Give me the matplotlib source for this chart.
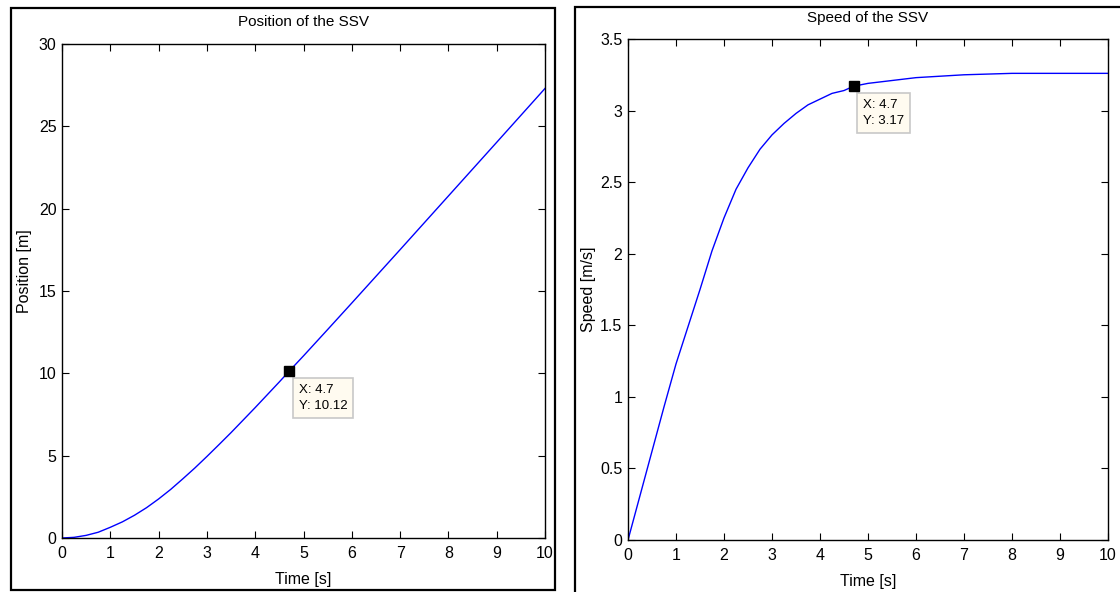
import matplotlib.pyplot as plt
from matplotlib.patches import Rectangle

# values
t = [0, 0.25, 0.5, 0.75, 1.0, 1.25, 1.5, 1.75, 2.0, 2.25, 2.5, 2.75, 3.0, 3.25, 3.5,
     3.75, 4.0, 4.25, 4.5, 4.7, 5.0, 5.5, 6.0, 6.5, 7.0, 8.0, 9.0, 10.0]
speed = [0, 0.31, 0.62, 0.93, 1.23, 1.49, 1.75, 2.02, 2.25, 2.45, 2.60, 2.73, 2.83, 2.91, 2.98,
         3.04, 3.08, 3.12, 3.14, 3.17, 3.19, 3.21, 3.23, 3.24, 3.25, 3.26, 3.26, 3.26]
position = [0, 0.04, 0.16, 0.35, 0.65, 0.98, 1.38, 1.84, 2.37, 2.95, 3.59, 4.25, 4.95, 5.67, 6.40,
            7.16, 7.92, 8.70, 9.48, 10.12, 11.06, 12.66, 14.27, 15.89, 17.51, 20.77, 24.03, 27.3]

tip_x = 4.7
tip_pos = 10.12
tip_speed = 3.17

FONT = ['Liberation Sans', 'DejaVu Sans']

fig = plt.figure(figsize=(11.2, 5.92), dpi=100)
fig.patch.set_facecolor('white')

# panel frames (two separate figure windows in the screenshot)
fig.add_artist(Rectangle((11 / 1120, 2 / 592), 544 / 1120, 582 / 592, transform=fig.transFigure,
                         fill=False, edgecolor='black', lw=1.6))
fig.add_artist(Rectangle((575 / 1120, -0.01), 0.6, 1 - 7 / 592 + 0.01, transform=fig.transFigure,
                         fill=False, edgecolor='black', lw=1.6))


def style(ax, title, ylabel, ylim, yticks, yfmt, tpad, ypad):
    ax.set_xlim(0, 10)
    ax.set_ylim(*ylim)
    ax.set_xticks(range(11))
    ax.set_yticks(yticks)
    ax.set_yticklabels([yfmt(v) for v in yticks])
    ax.tick_params(direction='in', length=5, width=0.8, top=True, right=True,
                   labelsize=11.5)
    ax.tick_params(axis='x', pad=6)
    ax.tick_params(axis='y', pad=4)
    for lab in ax.get_xticklabels() + ax.get_yticklabels():
        lab.set_family(FONT)
    for s in ax.spines.values():
        s.set_linewidth(1.0)
    ax.set_title(title, family=FONT, fontsize=11, pad=tpad)
    ax.set_xlabel('Time [s]', family=FONT, fontsize=11.5, labelpad=8)
    ax.set_ylabel(ylabel, family=FONT, fontsize=11.5, labelpad=ypad)


def datatip(ax, x, y, ytxt, dx, dy):
    ax.plot([x], [y], 's', color='black', markersize=7, zorder=5, clip_on=False)
    ax.annotate('X: %g\nY: %s' % (x, ytxt), xy=(x, y), xytext=(dx, dy),
                textcoords='offset points', ha='left', va='top',
                family=FONT, fontsize=9.5, linespacing=1.5,
                bbox=dict(boxstyle='square,pad=0.45', fc='#FFFBF0', ec='#C8C8C8', lw=1.2))


ax1 = fig.add_axes([62 / 1120, 1 - 538 / 592, 483 / 1120, 494 / 592])
ax1.plot(t, position, color='#0000FF', lw=1)
style(ax1, 'Position of the SSV', 'Position [m]', (0, 30), list(range(0, 31, 5)),
      lambda v: '%d' % v, 13, 5)
ax1.yaxis.label.set_y(0.54)
datatip(ax1, tip_x, tip_pos, '10.12', 7, -9)

ax2 = fig.add_axes([628 / 1120, 1 - 540 / 592, 480 / 1120, 501 / 592])
ax2.plot(t, speed, color='#0000FF', lw=1)
style(ax2, 'Speed of the SSV', 'Speed [m/s]', (0, 3.5),
      [0, 0.5, 1, 1.5, 2, 2.5, 3, 3.5], lambda v: '%g' % v, 12, 3)
datatip(ax2, tip_x, tip_speed, '3.17', 7, -9)

fig.savefig('out.png', dpi=100)
